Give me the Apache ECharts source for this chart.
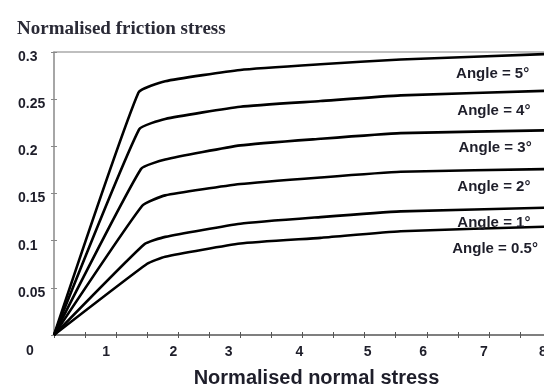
<!DOCTYPE html>
<html>
<head>
<meta charset="utf-8">
<script src="https://cdn.jsdelivr.net/npm/echarts@6/dist/echarts.min.js"></script>
<style>
  html, body { margin: 0; padding: 0; background: #fff; }
  #chart { width: 544px; height: 385px; }
</style>
</head>
<body>
<div id="chart"></div>
<script>
// Normalised friction stress against normalised normal stress, one curve per angle
const angleNames = ['Angle = 5°', 'Angle = 4°', 'Angle = 3°', 'Angle = 2°', 'Angle = 1°', 'Angle = 0.5°'];

const curve5  = [[0, 0], [1.36, 0.257], [1.79, 0.269], [3.0, 0.281], [4.29, 0.287], [5.58, 0.292], [8, 0.298]];
const curve4  = [[0, 0], [1.37, 0.218], [1.79, 0.229], [3.0, 0.242], [4.29, 0.248], [5.58, 0.254], [8, 0.259]];
const curve3  = [[0, 0], [1.40, 0.176], [1.79, 0.186], [3.0, 0.201], [4.29, 0.208], [5.58, 0.214], [8, 0.217]];
const curve2  = [[0, 0], [1.42, 0.137], [1.79, 0.148], [3.0, 0.160], [4.29, 0.167], [5.58, 0.173], [8, 0.176]];
const curve1  = [[0, 0], [1.45, 0.096], [1.79, 0.104], [3.0, 0.118], [4.29, 0.125], [5.58, 0.131], [8, 0.135]];
const curve05 = [[0, 0], [1.50, 0.0755], [1.79, 0.083], [3.0, 0.097], [4.29, 0.103], [5.58, 0.110], [8, 0.115]];
const curves = [curve5, curve4, curve3, curve2, curve1, curve05];

// where each curve's angle caption sits, in axis units
const captionAt = [[7.06, 0.2766], [7.08, 0.2372], [7.10, 0.1989], [7.08, 0.1574], [7.08, 0.1191], [7.10, 0.0915]];

// x tick labels and the axis positions they are printed at
const xTickLabels = ['1', '2', '3', '4', '5', '6', '7', '8'];
const xTickLabelAt = [0.84, 1.92, 2.81, 3.95, 5.05, 5.94, 6.92, 7.87];

const textColor = '#1e1e2a';
const labelFont = { fontFamily: 'Liberation Sans, Arial, sans-serif', fontWeight: 'bold', color: textColor };

const chart = echarts.init(document.getElementById('chart'), null, { renderer: 'canvas' });

const series = curves.map((pts, i) => ({
  type: 'line',
  name: angleNames[i],
  data: pts,
  showSymbol: false,
  smooth: 0.15,
  lineStyle: { color: '#000', width: 2.6, join: 'round' },
  silent: true,
  markPoint: {
    symbol: 'circle',
    symbolSize: 0,
    silent: true,
    data: [{ coord: captionAt[i] }],
    label: {
      show: true,
      position: 'inside',
      formatter: angleNames[i],
      fontSize: 15,
      ...labelFont
    }
  }
}));

chart.setOption({
  animation: false,
  title: {
    text: 'Normalised friction stress',
    left: 12,
    top: 15,
    textStyle: { fontFamily: 'Liberation Serif, Times New Roman, serif', fontWeight: 'bold', fontSize: 19, color: '#2a2a36' }
  },
  grid: { left: 54, right: -7, top: 52, bottom: 50, outerBoundsMode: 'none', containLabel: false },
  xAxis: [
    {
      type: 'value', min: 0, max: 8, interval: 0.5,
      axisLine: { lineStyle: { color: '#555', width: 1.5 } },
      axisTick: { show: true, length: 3, lineStyle: { color: '#555' } },
      splitLine: { show: false },
      axisLabel: {
        customValues: xTickLabelAt,
        margin: 10,
        fontSize: 14,
        ...labelFont,
        formatter: v => xTickLabels[xTickLabelAt.indexOf(v)]
      },
      name: 'Normalised normal stress',
      nameLocation: 'middle',
      nameGap: 33,
      nameTextStyle: { fontSize: 20, padding: [0, 0, 0, 28], ...labelFont }
    },
    {
      type: 'value', min: 0, max: 8, interval: 0.5, position: 'bottom',
      axisLine: { show: false },
      axisTick: { show: true, inside: true, length: 3, lineStyle: { color: '#555' } },
      axisLabel: { show: false },
      splitLine: { show: false }
    },
    {
      type: 'value', min: 0, max: 8, position: 'top',
      axisLine: { show: true, lineStyle: { color: '#aaa', width: 1.5 } },
      axisTick: { show: false },
      axisLabel: { show: false },
      splitLine: { show: false }
    }
  ],
  yAxis: [
    {
      type: 'value', min: 0, max: 0.3, interval: 0.05,
      axisLine: { show: true, lineStyle: { color: '#888', width: 1.5 } },
      axisTick: { show: true, length: 3, lineStyle: { color: '#888' } },
      splitLine: { show: false },
      axisLabel: {
        align: 'left',
        verticalAlign: 'top',
        lineHeight: 10,
        margin: 36,
        fontSize: 14,
        ...labelFont,
        formatter: v => (v === 0 ? '' : String(Number(v.toFixed(2))))
      }
    },
    {
      type: 'value', min: 0, max: 0.3, interval: 0.05, position: 'left',
      axisLine: { show: false },
      axisTick: { show: true, inside: true, length: 3, lineStyle: { color: '#888' } },
      axisLabel: { show: false },
      splitLine: { show: false }
    }
  ],
  graphic: [
    {
      type: 'text',
      left: 26,
      top: 344,
      style: { text: '0', font: 'bold 14px Liberation Sans, Arial, sans-serif', fill: textColor }
    }
  ],
  series: series
});
</script>
</body>
</html>
